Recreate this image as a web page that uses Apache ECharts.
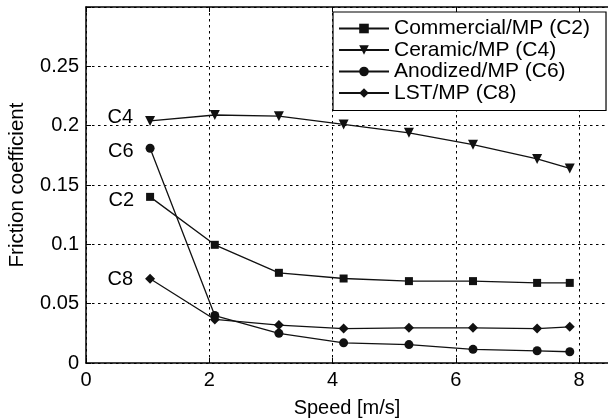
<!DOCTYPE html>
<html><head><meta charset="utf-8">
<script src="https://cdn.jsdelivr.net/npm/echarts@6/dist/echarts.min.js"></script>
<style>html,body{margin:0;padding:0;background:#fff;overflow:hidden}#c{width:608px;height:419px}</style>
</head><body><div id="c"></div>
<script>
const speeds = [1.04, 2.09, 3.13, 4.18, 5.24, 6.28, 7.32, 7.85];
const seriesNames = ['Commercial/MP (C2)', 'Ceramic/MP (C4)', 'Anodized/MP (C6)', 'LST/MP (C8)'];
const seriesTags = ['C2', 'C4', 'C6', 'C8'];
const c2 = [0.140, 0.0996, 0.076, 0.0712, 0.069, 0.069, 0.0675, 0.0675];
const c4 = [0.204, 0.209, 0.208, 0.201, 0.194, 0.184, 0.172, 0.164];
const c6 = [0.181, 0.040, 0.025, 0.017, 0.0155, 0.0115, 0.0103, 0.0095];
const c8 = [0.071, 0.0367, 0.032, 0.029, 0.0296, 0.0296, 0.029, 0.0305];
const xTicks = [0, 2, 4, 6, 8];
const yTicks = [0, 0.05, 0.1, 0.15, 0.2, 0.25];

const values = [c2, c4, c6, c8];
const symbols = ['rect', 'triangle', 'circle', 'diamond'];
const symbolSizes = [8, 10, 9, 10];
const tagOffsets = [4, -3, 3, 1];
const FONT = '"Liberation Sans", Arial, Helvetica, sans-serif';

const chart = echarts.init(document.getElementById('c'), null, {renderer: 'canvas'});
const gridLine = {show: true, lineStyle: {color: '#000', width: 1, type: [2.5, 3.5]}};

const series = values.map((vals, i) => ({
  name: seriesNames[i],
  type: 'line',
  data: vals.map((v, j) => {
    const p = {value: [speeds[j], v]};
    if (j === 0) {
      p.label = {show: true, position: 'left', distance: 12, offset: [0, tagOffsets[i]],
        formatter: seriesTags[i], color: '#000', fontSize: 20, fontFamily: FONT};
    }
    return p;
  }),
  symbol: symbols[i],
  symbolRotate: symbols[i] === 'triangle' ? 180 : 0,
  symbolSize: symbolSizes[i],
  showAllSymbol: true,
  itemStyle: {color: '#111'},
  lineStyle: {color: '#111', width: 1.3},
  animation: false,
  z: 5
}));

chart.setOption({
  animation: false,
  backgroundColor: '#fff',
  grid: {left: 86, top: 7, width: 530, bottom: 56, show: false, containLabel: false, outerBoundsMode: 'none'},
  graphic: [{
    type: 'rect', right: 0, top: 112, z: 100, silent: true,
    shape: {width: 3, height: 250},
    style: {fill: '#fff'}
  }],
  legend: {
    orient: 'vertical', left: 333, top: 12,
    data: seriesNames,
    backgroundColor: '#fff', borderColor: '#000', borderWidth: 1.2,
    padding: [6, 16, 7, 5],
    itemWidth: 50, itemHeight: 12, itemGap: 0.5,
    textStyle: {color: '#000', fontSize: 21, fontFamily: FONT, lineHeight: 21},
    inactiveColor: '#111'
  },
  xAxis: [{
    type: 'value', min: 0, max: 8.6, interval: 2,
    name: 'Speed [m/s]', nameLocation: 'middle', nameGap: 35,
    nameTextStyle: {color: '#000', fontSize: 20, fontFamily: FONT, padding: [0, 8, 0, 0]},
    axisLine: {show: true, lineStyle: {color: '#000', width: 1.5}},
    axisTick: {show: true, inside: true, length: 5, lineStyle: {color: '#000'}},
    axisLabel: {color: '#000', fontSize: 20, fontFamily: FONT, margin: 7,
      formatter: v => xTicks.includes(v) ? String(v) : ''},
    splitLine: gridLine
  }, {
    type: 'value', min: 0, max: 8.6, interval: 2, position: 'top',
    axisLine: {show: true, lineStyle: {color: '#000', width: 1.5}},
    axisTick: {show: true, inside: true, length: 5, lineStyle: {color: '#000'}},
    axisLabel: {show: false}, splitLine: {show: false}
  }],
  yAxis: {
    type: 'value', min: 0, max: 0.3, interval: 0.05,
    name: 'Friction coefficient', nameLocation: 'middle', nameGap: 58,
    nameTextStyle: {color: '#000', fontSize: 20.5, fontFamily: FONT},
    axisLine: {show: true, lineStyle: {color: '#000', width: 1.5}},
    axisTick: {show: true, inside: true, length: 5, lineStyle: {color: '#000'}},
    axisLabel: {color: '#000', fontSize: 20, fontFamily: FONT, margin: 7,
      formatter: v => {
        const m = yTicks.find(t => Math.abs(t - v) < 1e-9);
        return m === undefined ? '' : String(m);
      }},
    splitLine: gridLine
  },
  series: series
});
</script></body></html>
